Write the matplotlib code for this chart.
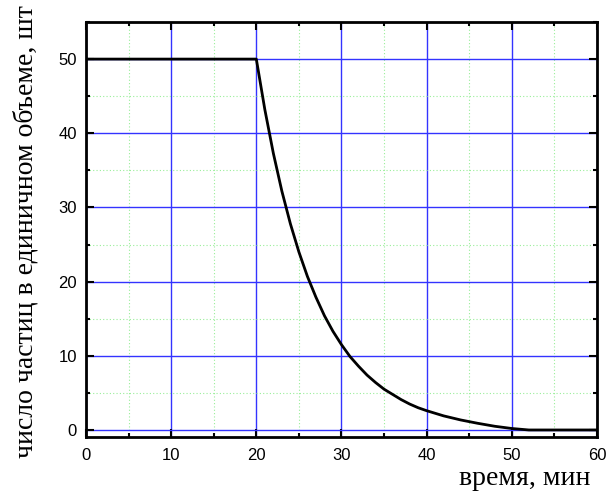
import matplotlib

matplotlib.use("Agg")
import matplotlib.pyplot as plt
from matplotlib.ticker import MultipleLocator

plt.rcParams["font.family"] = ["Liberation Sans", "DejaVu Sans"]

# время, мин / число частиц
t_min = [0, 20, 21, 22, 23, 24, 25, 26, 27, 28, 29, 30, 31, 32, 33, 34, 35,
         36, 37, 38, 39, 40, 42, 44, 46, 48, 50, 52, 60]
n_part = [50, 50, 43.2, 37.3, 32.2, 27.8, 24.0, 20.7, 17.9, 15.4, 13.3, 11.5,
          9.9, 8.6, 7.4, 6.4, 5.5, 4.8, 4.1, 3.5, 3.0, 2.6, 1.9, 1.35, 0.9,
          0.5, 0.2, 0.0, 0.0]

fig = plt.figure(figsize=(6.06, 4.99), dpi=100)
ax = fig.add_axes([0.1419, 0.1242, 0.8432, 0.8317])

ax.plot(t_min, n_part, color="black", lw=2, zorder=3)

ax.set_xlim(0, 60)
ax.set_ylim(-0.95, 55)
ax.xaxis.set_major_locator(MultipleLocator(10))
ax.xaxis.set_minor_locator(MultipleLocator(5))
ax.yaxis.set_major_locator(MultipleLocator(10))
ax.yaxis.set_minor_locator(MultipleLocator(5))

ax.grid(True, which="major", color="#3333ff", lw=1.0)
ax.grid(True, which="minor", color="#99ee99", lw=0.8, ls=(0, (1, 2)))
ax.set_axisbelow(True)

ax.tick_params(which="both", direction="in", top=True, right=True,
               labelsize=12, width=1.5)
ax.tick_params(which="major", length=6)
ax.tick_params(which="minor", length=3)
ax.tick_params(axis="x", pad=8)
ax.tick_params(axis="y", pad=6.5)
for sp in ax.spines.values():
    sp.set_linewidth(2)

fig.text(0.975, 0.042, "время, мин", ha="right", va="center",
         family="Liberation Serif", fontsize=20)
fig.text(0.042, 0.535, "число частиц в единичном объеме, шт", ha="center",
         va="center", rotation=90, family="Liberation Serif", fontsize=20)

fig.savefig("out.png", dpi=100)
